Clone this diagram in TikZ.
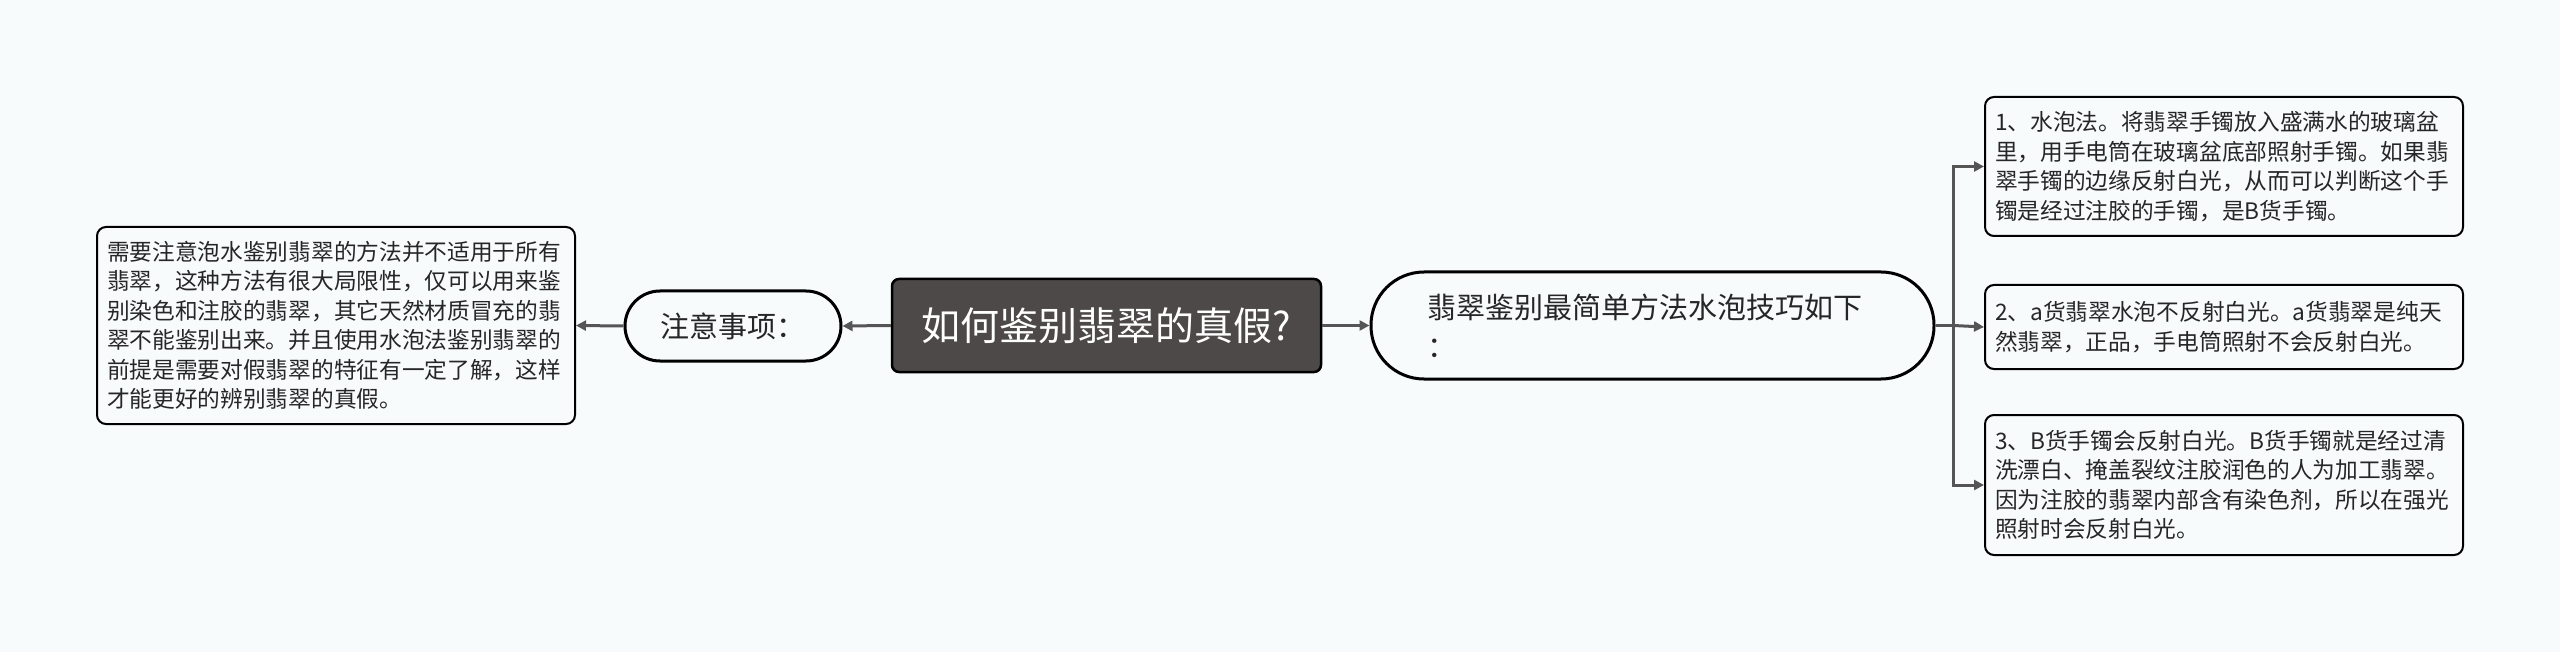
\documentclass[tikz,border=0pt]{standalone}
\usepackage{fontspec}
\setmainfont{Noto Sans CJK SC}
\usetikzlibrary{arrows.meta}
\definecolor{bg}{HTML}{F7FBFC}
\definecolor{connc}{HTML}{555555}
\definecolor{ctr}{HTML}{4D4949}
\definecolor{txt}{HTML}{262626}
\begin{document}
\begin{tikzpicture}[x=1pt,y=-1pt,
  link/.style={draw=connc, line width=3pt, -{Triangle[length=10pt,width=10pt]}},
  plainlink/.style={draw=connc, line width=3pt},
  leafbox/.style={draw=black, line width=2pt, rounded corners=9pt, minimum width=478pt,
     text width=458pt, inner xsep=10pt, inner ysep=0pt, align=left,
     font=\fontsize{22.7}{29.5}\selectfont, text=txt},
  centerbox/.style={draw=black, line width=2.5pt, fill=ctr, rounded corners=7pt,
     minimum width=429pt, minimum height=93pt, inner sep=0pt, text=white,
     font=\fontsize{39}{47}\selectfont},
  pill/.style={draw=black, line width=3pt, inner sep=0pt, text=txt,
     font=\fontsize{29}{39}\selectfont}
]
\fill[bg] (0,0) rectangle (2560,652);
\useasboundingbox (0,0) rectangle (2560,652);

\node[centerbox] (c) at (1106.5,325.5) {如何鉴别翡翠的真假?};

\node[pill, rounded corners=35pt, minimum width=216pt, minimum height=70pt] (z) at (733,326) {注意事项：};

\node[pill, rounded corners=53pt, minimum width=563pt, minimum height=107pt, text width=451pt, align=left] (o) at (1652.5,325.5)
  {翡翠鉴别最简单方法水泡技巧如下\\：};

\node[leafbox, minimum height=197pt] (l) at (336,325.5)
  {需要注意泡水鉴别翡翠的方法并不适用于所有\\翡翠，这种方法有很大局限性，仅可以用来鉴\\别染色和注胶的翡翠，其它天然材质冒充的翡\\翠不能鉴别出来。并且使用水泡法鉴别翡翠的\\前提是需要对假翡翠的特征有一定了解，这样\\才能更好的辨别翡翠的真假。};

\node[leafbox, minimum height=139pt] (b1) at (2224,166.5)
  {1、水泡法。将翡翠手镯放入盛满水的玻璃盆\\里，用手电筒在玻璃盆底部照射手镯。如果翡\\翠手镯的边缘反射白光，从而可以判断这个手\\镯是经过注胶的手镯，是B货手镯。};

\node[leafbox, minimum height=84pt] (b2) at (2224,327)
  {2、a货翡翠水泡不反射白光。a货翡翠是纯天\\然翡翠，正品，手电筒照射不会反射白光。};

\node[leafbox, minimum height=140pt] (b3) at (2224,485)
  {3、B货手镯会反射白光。B货手镯就是经过清\\洗漂白、掩盖裂纹注胶润色的人为加工翡翠。\\因为注胶的翡翠内部含有染色剂，所以在强光\\照射时会反射白光。};

\draw[link] (c.west) -- (z.east);
\draw[link] (z.west) -- (l.east);
\draw[link] (c.east) -- (o.west);

\coordinate (j) at ([xshift=18pt]o.east);
\draw[plainlink] (o.east) -- (j);
\draw[link] (j) |- (b1.west);
\draw[link] (j) -- (b2.west);
\draw[link] (j) |- (b3.west);
\end{tikzpicture}
\end{document}
